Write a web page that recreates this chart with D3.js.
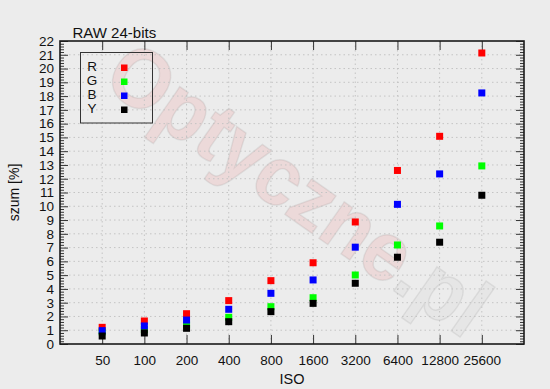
<!DOCTYPE html>
<html>
<head>
<meta charset="utf-8">
<script src="https://cdn.jsdelivr.net/npm/d3@7"></script>
<style>
  body { margin: 0; background: #ececec; }
  text { font-family: 'Liberation Sans', Arial, sans-serif; fill: #111; }
</style>
</head>
<body>
<div id="graph"></div>
<script>
// ISO steps and noise values (%) per channel
const isoValues = [50, 100, 200, 400, 800, 1600, 3200, 6400, 12800, 25600]
const rValues = [1.21, 1.67, 2.2, 3.15, 4.6, 5.9, 8.86, 12.6, 15.08, 21.13]
const gValues = [0.88, 1.05, 1.38, 1.94, 2.71, 3.36, 5.01, 7.19, 8.57, 12.93]
const bValues = [0.97, 1.31, 1.74, 2.52, 3.68, 4.65, 7.03, 10.14, 12.35, 18.23]
const yValues = [0.58, 0.8, 1.14, 1.62, 2.35, 2.95, 4.41, 6.3, 7.39, 10.8]
const seriesNames = ['R', 'G', 'B', 'Y']
const seriesColors = ['#ff0000', '#00ff00', '#0000ff', '#000000']

const width = 550, height = 389
const plot = { left: 60, right: 524, top: 41, bottom: 344 }

const svg = d3.select('#graph')
  .append('svg')
  .attr('width', width)
  .attr('height', height)

svg.append('rect').attr('width', width).attr('height', height).attr('fill', '#ececec')

const x = d3.scaleLog().base(2)
  .domain([25, 51200])
  .range([plot.left, plot.right])

const y = d3.scaleLinear()
  .domain([0, 22])
  .range([plot.bottom, plot.top])

// Watermark
const wm = svg.append('g')
  .attr('transform', 'translate(100,85) rotate(35)')
  .style('font-family', "'DejaVu Sans', sans-serif")
  .style('font-weight', 'bold')
  .style('font-size', '84px')
const wmText = wm.append('text')
  .attr('x', 0).attr('y', 0)
  .attr('textLength', 445)
  .attr('lengthAdjust', 'spacingAndGlyphs')
  .style('stroke', 'rgba(110,110,110,0.12)')
  .style('stroke-width', 1.5)
wmText.append('tspan').text('Optyczne').style('fill', 'rgba(235,60,60,0.11)')
wmText.append('tspan').text('.pl').style('fill', 'rgba(150,150,150,0.07)')

// Grid
const grid = svg.append('g')
  .attr('stroke', '#c4c4c4')
  .attr('stroke-width', 1)
  .attr('stroke-dasharray', '1.5,3')
grid.selectAll('.gx').data(isoValues).join('line')
  .attr('x1', d => x(d)).attr('x2', d => x(d))
  .attr('y1', plot.top).attr('y2', plot.bottom)
grid.selectAll('.gy').data(d3.range(1, 22)).join('line')
  .attr('x1', plot.left).attr('x2', plot.right)
  .attr('y1', d => y(d)).attr('y2', d => y(d))

// Axes
const minorVals = d3.range(0, 110).map(i => i / 5).filter(v => v % 1 !== 0 && v < 22)

function styleAxis(g) {
  g.select('.domain').remove()
  g.selectAll('line').attr('stroke', '#333')
  g.selectAll('text').style('font-size', '13.5px').attr('fill', '#111')
}

svg.append('g')
  .attr('transform', 'translate(' + plot.left + ',0)')
  .call(d3.axisLeft(y).tickValues(d3.range(0, 23)).tickSize(-8).tickPadding(6).tickFormat(d3.format('d')))
  .call(styleAxis)
svg.append('g')
  .attr('transform', 'translate(' + plot.left + ',0)')
  .call(d3.axisLeft(y).tickValues(minorVals).tickSize(-4).tickFormat(''))
  .call(styleAxis)
svg.append('g')
  .attr('transform', 'translate(' + plot.right + ',0)')
  .call(d3.axisRight(y).tickValues(d3.range(0, 23)).tickSize(-8).tickFormat(''))
  .call(styleAxis)
svg.append('g')
  .attr('transform', 'translate(' + plot.right + ',0)')
  .call(d3.axisRight(y).tickValues(minorVals).tickSize(-4).tickFormat(''))
  .call(styleAxis)

svg.append('g')
  .attr('transform', 'translate(0,' + plot.bottom + ')')
  .call(d3.axisBottom(x).tickValues(isoValues).tickSize(-9).tickPadding(11).tickFormat(d3.format('d')))
  .call(styleAxis)
svg.append('g')
  .attr('transform', 'translate(0,' + plot.top + ')')
  .call(d3.axisTop(x).tickValues(isoValues).tickSize(-9).tickFormat(''))
  .call(styleAxis)

// Frame
svg.append('rect')
  .attr('x', plot.left).attr('y', plot.top)
  .attr('width', plot.right - plot.left).attr('height', plot.bottom - plot.top)
  .attr('fill', 'none').attr('stroke', '#1a1a1a').attr('stroke-width', 1.6)

// Points
const allSeries = [rValues, gValues, bValues, yValues]
const size = 7
allSeries.forEach(function (vals, i) {
  svg.append('g').selectAll('rect')
    .data(vals.map((v, j) => ({ iso: isoValues[j], value: v })))
    .join('rect')
    .attr('x', d => x(d.iso) - size / 2)
    .attr('y', d => y(d.value) - size / 2)
    .attr('width', size).attr('height', size)
    .attr('fill', seriesColors[i])
})

// Legend
const legend = svg.append('g')
legend.append('rect')
  .attr('x', 80.5).attr('y', 52.5).attr('width', 72).attr('height', 70.5)
  .attr('fill', 'none').attr('stroke', '#333').attr('stroke-width', 1)
seriesNames.forEach(function (name, i) {
  legend.append('text')
    .attr('x', 92).attr('y', 71.5 + i * 14)
    .attr('text-anchor', 'middle')
    .style('font-size', '12px')
    .attr('transform', 'translate(92,' + (71.5 + i * 14) + ') scale(1.12) translate(-92,' + (-(71.5 + i * 14)) + ')')
    .text(name)
  legend.append('rect')
    .attr('x', 121).attr('y', 64.5 + i * 14)
    .attr('width', 6.5).attr('height', 6.5)
    .attr('fill', seriesColors[i])
})

// Titles
svg.append('text')
  .attr('x', 72.5).attr('y', 38)
  .style('font-size', '15px')
  .text('RAW 24-bits')

svg.append('text')
  .attr('x', (plot.left + plot.right) / 2).attr('y', 384)
  .attr('text-anchor', 'middle')
  .style('font-size', '14.5px')
  .text('ISO')

svg.append('text')
  .attr('transform', 'translate(19,' + (plot.top + plot.bottom) / 2 + ') rotate(-90)')
  .attr('text-anchor', 'middle')
  .style('font-size', '14px')
  .text('szum [%]')
</script>
</body>
</html>
